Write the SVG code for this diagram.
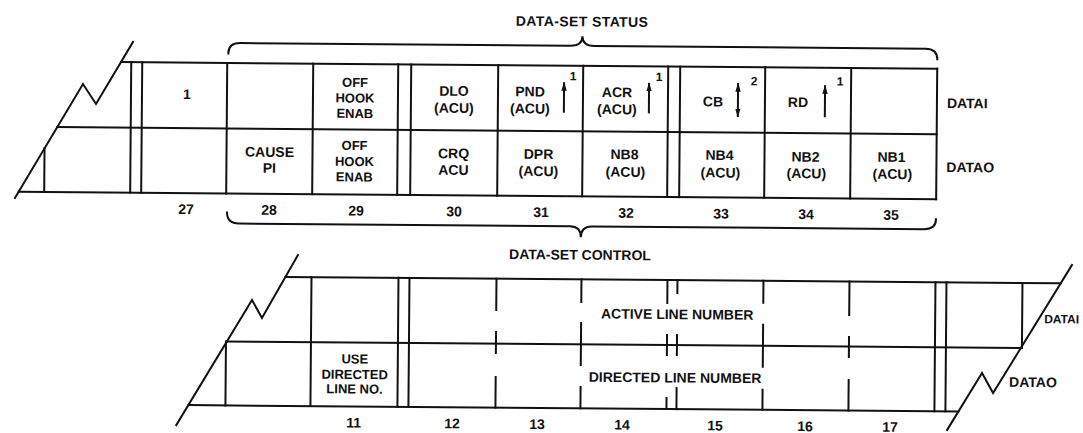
<svg xmlns="http://www.w3.org/2000/svg" width="1083" height="433" viewBox="0 0 1083 433">
<defs>
<marker id="ah" viewBox="0 0 10 6" markerWidth="9" markerHeight="6" refX="9.5" refY="3" orient="auto-start-reverse" markerUnits="userSpaceOnUse">
<path d="M0,0 L10,3 L0,6 Z" fill="#111"/>
</marker>
<style>
.ln{stroke:#111;stroke-width:2;fill:none;stroke-linecap:square}
.tx{font-family:"Liberation Sans",Arial,sans-serif;font-weight:bold;font-size:14px;fill:#111;text-anchor:middle}
.st{text-anchor:start}
.sm{font-size:12px}
.md{font-size:13px}
.ar{stroke:#111;stroke-width:2;fill:none}
</style>
</defs>
<rect width="1083" height="433" fill="#fff"/>
<g transform="rotate(0.47 541 216)">
<!-- top register frame -->
<g id="top-frame">
<path class="ln" d="M119.8,65.5 H936 M56.6,131 H936 M18.5,196 H936"/>
<path class="ln" d="M131.6,45.3 L95.1,107.6 L81.9,87.8 L14.85,202.3"/>
<path class="ln" d="M44,152 V196 M130,65.5 V196 M141,65.5 V196 M226,65.5 V196 M312,65.5 V196 M397,65.5 V196 M410,65.5 V196 M497,65.5 V196 M582,65.5 V196 M667,65.5 V196 M679,65.5 V196 M764,65.5 V196 M850,65.5 V196 M936,65.5 V196"/>
</g>
<g id="bit27"><text class="tx" x="186" y="102">1</text><text class="tx" x="186" y="217">27</text></g>
<g id="bit28"><text class="tx" x="269" y="159">CAUSE</text><text class="tx" x="269" y="175">PI</text><text class="tx" x="269" y="217">28</text></g>
<g id="bit29"><text class="tx md" x="354" y="88.5">OFF</text><text class="tx md" x="354" y="104">HOOK</text><text class="tx md" x="354" y="119.5">ENAB</text>
<text class="tx md" x="354" y="151.5">OFF</text><text class="tx md" x="354" y="167.5">HOOK</text><text class="tx md" x="354" y="183">ENAB</text><text class="tx" x="356" y="217">29</text></g>
<g id="bit30"><text class="tx" x="453" y="96.5">DLO</text><text class="tx" x="453" y="113.5">(ACU)</text>
<text class="tx" x="453" y="159">CRQ</text><text class="tx" x="453" y="175.5">ACU</text><text class="tx" x="454" y="217">30</text></g>
<g id="bit31"><text class="tx" x="529" y="96.5">PND</text><text class="tx" x="529" y="113.5">(ACU)</text><text class="tx sm" x="572" y="80">1</text>
<text class="tx" x="538" y="159">DPR</text><text class="tx" x="538" y="176">(ACU)</text><text class="tx" x="541" y="217">31</text></g>
<g id="bit32"><text class="tx" x="616" y="96.5">ACR</text><text class="tx" x="616" y="113.5">(ACU)</text><text class="tx sm" x="658" y="80">1</text>
<text class="tx" x="624" y="158.5">NB8</text><text class="tx" x="625" y="176">(ACU)</text><text class="tx" x="626" y="217">32</text></g>
<g id="bit33"><text class="tx" x="712" y="105">CB</text><text class="tx sm" x="753" y="83.5">2</text>
<text class="tx" x="719" y="158.5">NB4</text><text class="tx" x="720" y="176">(ACU)</text><text class="tx" x="721" y="217">33</text></g>
<g id="bit34"><text class="tx" x="797" y="105">RD</text><text class="tx sm" x="839" y="83">1</text>
<text class="tx" x="805" y="159.5">NB2</text><text class="tx" x="806" y="176">(ACU)</text><text class="tx" x="806" y="217">34</text></g>
<g id="bit35"><text class="tx" x="891" y="159">NB1</text><text class="tx" x="892" y="176">(ACU)</text><text class="tx" x="891" y="217">35</text></g>
<g id="top-labels"><text class="tx st" x="946" y="104.7">DATAI</text><text class="tx st" x="946" y="168.7">DATAO</text>
<text class="tx" x="580.5" y="26" style="letter-spacing:0.4px">DATA-SET STATUS</text>
<text class="tx" x="580.3" y="259.3">DATA-SET CONTROL</text></g>
<!-- bottom register frame -->
<g id="bottom-frame">
<path class="ln" d="M286,279 H1061.3 M227.5,344 H1022.5 M190,408 H960"/>
<path class="ln" d="M298.3,257 L262.8,320.3 L252.7,302.4 L178,428"/>
<path class="ln" d="M1072.4,260.6 L994.5,389.3 L983.3,369.4 L948.8,426.7"/>
<path class="ln" d="M227,344 V408 M312,279 V408 M399,279 V408 M410,279 V408 M936,279 V408 M947,279 V408 M1023,279 V344"/>
<path class="ln" d="M497,279 V310.4 M497,332.4 V353.4 M497,377.4 V408
M582,279 V301.7 M582,322.7 V364.7 M582,386.7 V408
M668,279 V302 M668,334 V354 M668,397 V408
M678,279 V292 M678,334 V354 M678,387 V408
M764,279 V301 M764,323 V365 M764,388 V408
M850,279 V312.5 M850,334.5 V354.5 M850,377.5 V408"/>
</g>
<g id="bit11"><text class="tx md" x="356" y="365">USE</text><text class="tx md" x="356" y="380.5">DIRECTED</text><text class="tx md" x="356" y="395">LINE NO.</text><text class="tx" x="355.5" y="429">11</text></g>
<g id="bits12-17"><text class="tx" x="678" y="318">ACTIVE LINE NUMBER</text><text class="tx" x="676.4" y="381.4">DIRECTED LINE NUMBER</text>
<text class="tx" x="453.7" y="429">12</text><text class="tx" x="538.7" y="429">13</text><text class="tx" x="623.7" y="429">14</text><text class="tx" x="716.7" y="429">15</text><text class="tx" x="806.7" y="429">16</text><text class="tx" x="891.7" y="429">17</text></g>
<g id="bottom-labels"><text class="tx st" x="1045" y="319" style="font-size:12px">DATAI</text><text class="tx st" x="1010.5" y="383">DATAO</text></g>
<!-- connectors: braces and arrows -->
<g id="connectors">
<path class="ln" d="M227,56 Q227,45.5 239,45.5 L569,45.5 Q581,45.5 581,36 Q581,45.5 593,45.5 L924,45.5 Q936,45.5 936,56"/>
<path class="ln" d="M227,215 Q227,226 239,226 L570,226 Q581,226 581,237 Q581,226 592,226 L924,226 Q936,226 936,216"/>
<path class="ar" d="M563,112.5 V82" marker-end="url(#ah)"/>
<path class="ar" d="M648,112.5 V82" marker-end="url(#ah)"/>
<path class="ar" d="M737,81.5 V115.5" marker-start="url(#ah)" marker-end="url(#ah)"/>
<path class="ar" d="M824,115 V83" marker-end="url(#ah)"/>
</g>
</g>
</svg>
